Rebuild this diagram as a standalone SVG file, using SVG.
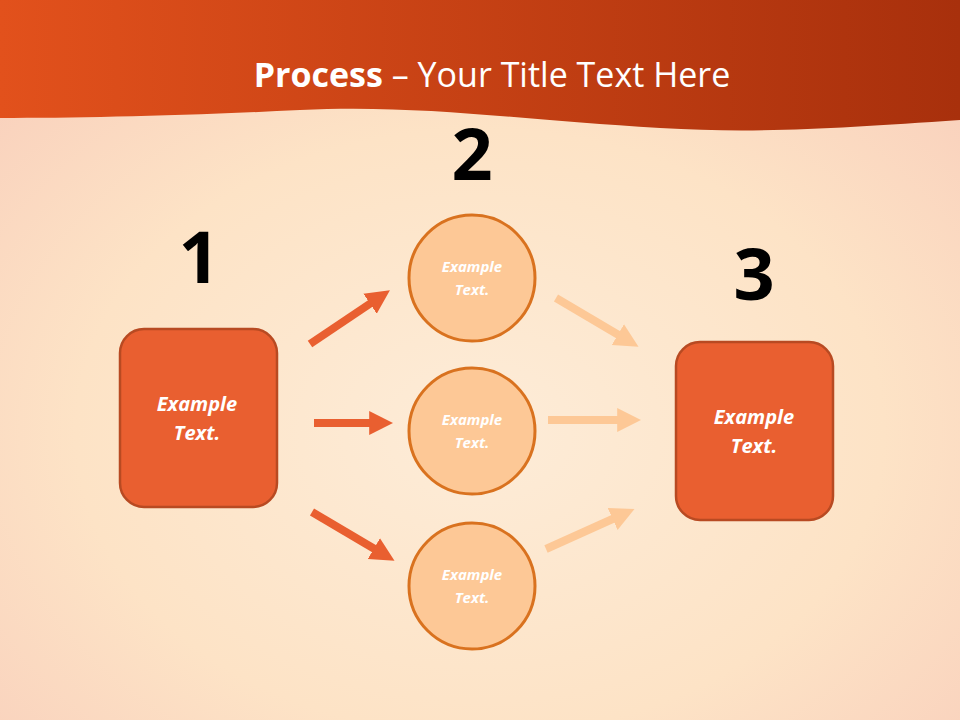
<svg xmlns="http://www.w3.org/2000/svg" width="960" height="720" viewBox="0 0 960 720">
<defs>
<radialGradient id="bg" cx="0.5" cy="0.6" r="0.7"><stop offset="0" stop-color="#fdecd8"/><stop offset="0.6" stop-color="#fde3c6"/><stop offset="1" stop-color="#f9d0bc"/></radialGradient>
<linearGradient id="hd" x1="0" y1="0" x2="1" y2="0"><stop offset="0" stop-color="#e2511c"/><stop offset="1" stop-color="#a8300c"/></linearGradient>
<marker id="ha" viewBox="0 0 10 10" refX="2" refY="5" markerWidth="3" markerHeight="3.2" orient="auto" markerUnits="strokeWidth"><path d="M0,0L10,5L0,10z" fill="#e95f30"/></marker>
<marker id="hb" viewBox="0 0 10 10" refX="2" refY="5" markerWidth="3" markerHeight="3.2" orient="auto" markerUnits="strokeWidth"><path d="M0,0L10,5L0,10z" fill="#fdc896"/></marker>
</defs>
<style>
.box{fill:#e95f30;stroke:#b84a22;stroke-width:2.5}
.cir{fill:#fdc896;stroke:#d9721f;stroke-width:3}
.bt{font-family:"Open Sans","Liberation Sans",sans-serif;font-weight:bold;font-style:italic;fill:#fff;text-anchor:middle}
.num{font-family:"Open Sans","Liberation Sans",sans-serif;font-weight:bold;font-size:72px;fill:#000;text-anchor:middle}
.a{stroke:#e95f30;stroke-width:8;fill:none;marker-end:url(#ha)}
.b{stroke:#fdc896;stroke-width:8;fill:none;marker-end:url(#hb)}
</style>
<rect width="960" height="720" fill="url(#bg)"/>
<path d="M0,0H960V120C840,128 760,134 660,128C520,120 420,104 300,110C180,116 80,118 0,118Z" fill="url(#hd)"/>
<text x="492" y="87" font-family="Open Sans,Liberation Sans,sans-serif" font-size="34" fill="#fff" text-anchor="middle"><tspan font-weight="bold">Process</tspan> – Your Title Text Here</text>
<g id="connectors">
<line class="a" x1="310" y1="344" x2="374" y2="301"/>
<line class="a" x1="314" y1="423" x2="374" y2="423"/>
<line class="a" x1="312" y1="512" x2="378" y2="551"/>
<line class="b" x1="556" y1="298" x2="622" y2="337"/>
<line class="b" x1="548" y1="420" x2="622" y2="420"/>
<line class="b" x1="546" y1="549" x2="617" y2="517"/>
</g>
<g id="n1"><text class="num" x="199" y="283">1</text><rect class="box" x="120" y="329" width="157" height="178" rx="24"/><text class="bt" font-size="20" x="197" y="411">Example</text><text class="bt" font-size="20" x="197" y="440">Text.</text></g>
<g id="n2"><text class="num" x="472" y="180">2</text><circle class="cir" cx="472" cy="278" r="63"/><text class="bt" font-size="15" x="472" y="272">Example</text><text class="bt" font-size="15" x="472" y="295">Text.</text></g>
<g id="n2b"><circle class="cir" cx="472" cy="431" r="63"/><text class="bt" font-size="15" x="472" y="425">Example</text><text class="bt" font-size="15" x="472" y="448">Text.</text></g>
<g id="n2c"><circle class="cir" cx="472" cy="586" r="63"/><text class="bt" font-size="15" x="472" y="580">Example</text><text class="bt" font-size="15" x="472" y="603">Text.</text></g>
<g id="n3"><text class="num" x="754" y="300">3</text><rect class="box" x="676" y="342" width="157" height="178" rx="24"/><text class="bt" font-size="20" x="754" y="424">Example</text><text class="bt" font-size="20" x="754" y="453">Text.</text></g>
</svg>
